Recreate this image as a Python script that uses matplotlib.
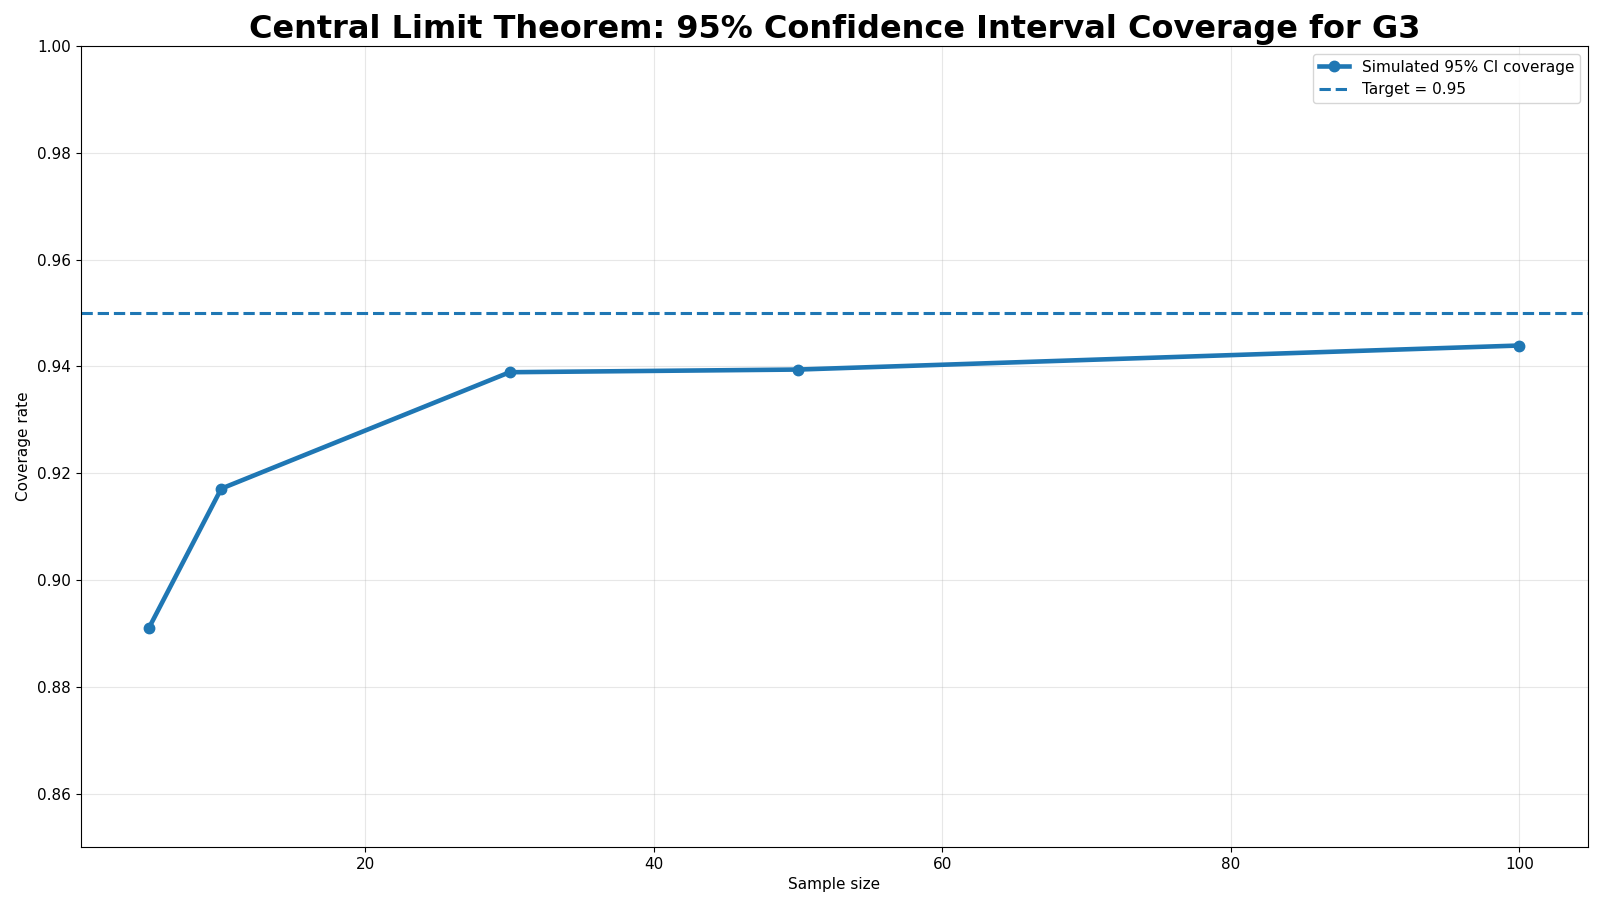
import matplotlib
matplotlib.use("Agg")
import matplotlib.pyplot as plt

sample_sizes = [5, 10, 30, 50, 100]
coverage = [0.8911, 0.9171, 0.9389, 0.9394, 0.9439]
target = 0.95

plt.rcParams['font.size'] = 11
fig, ax = plt.subplots(figsize=(16, 9.09), dpi=100)
ax.plot(sample_sizes, coverage, marker='o', linewidth=3.3, markersize=7.5,
        color='#1f77b4', label='Simulated 95% CI coverage')
ax.axhline(target, linestyle='--', linewidth=2.2, color='#1f77b4', label='Target = 0.95')
ax.set_ylim(0.85, 1.0)
ax.set_xlabel('Sample size', fontsize=11)
ax.set_ylabel('Coverage rate', fontsize=11)
ax.tick_params(labelsize=11)
ax.set_title('Central Limit Theorem: 95% Confidence Interval Coverage for G3',
             fontsize=23, fontweight='bold')
ax.grid(True, alpha=0.3)
ax.legend(loc='upper right', fontsize=11)
fig.subplots_adjust(left=0.0504, right=0.9924, top=0.9495, bottom=0.0682)
fig.savefig('out.png', dpi=100)
